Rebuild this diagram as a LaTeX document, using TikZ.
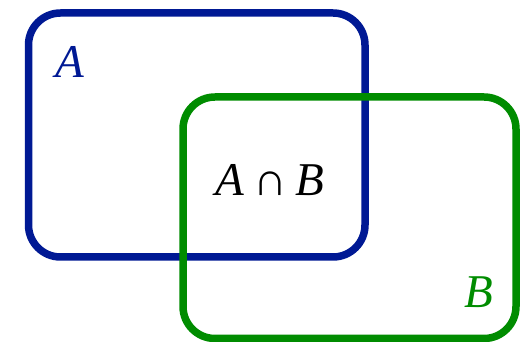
\documentclass[tikz,border=0pt]{standalone}
\usepackage{fontspec}
\setmainfont{Liberation Serif}
\definecolor{setblue}{RGB}{0,25,148}
\definecolor{setgreen}{RGB}{0,140,0}
\tikzset{
  setbox/.style={line width=7.5pt, rounded corners=32pt},
  setlabel/.style={font=\fontsize{47}{47}\selectfont\itshape, inner sep=0pt}
}
\begin{document}
\begin{tikzpicture}[x=1pt,y=1pt]
\useasboundingbox (0,0) rectangle (520,342);
\draw[setbox, setblue] (28.5,329) rectangle (365,85);
\draw[setbox, setgreen] (183,245) rectangle (516,3.5);
\node[setlabel, text=setblue] (la) at (70,280) {A};
\node[setlabel, text=setgreen] (lb) at (479,50) {B};
\node[setlabel] (lab) at (270,162) {A\hspace{9pt}{\upshape ∩}\hspace{9pt}B};
\end{tikzpicture}
\end{document}
